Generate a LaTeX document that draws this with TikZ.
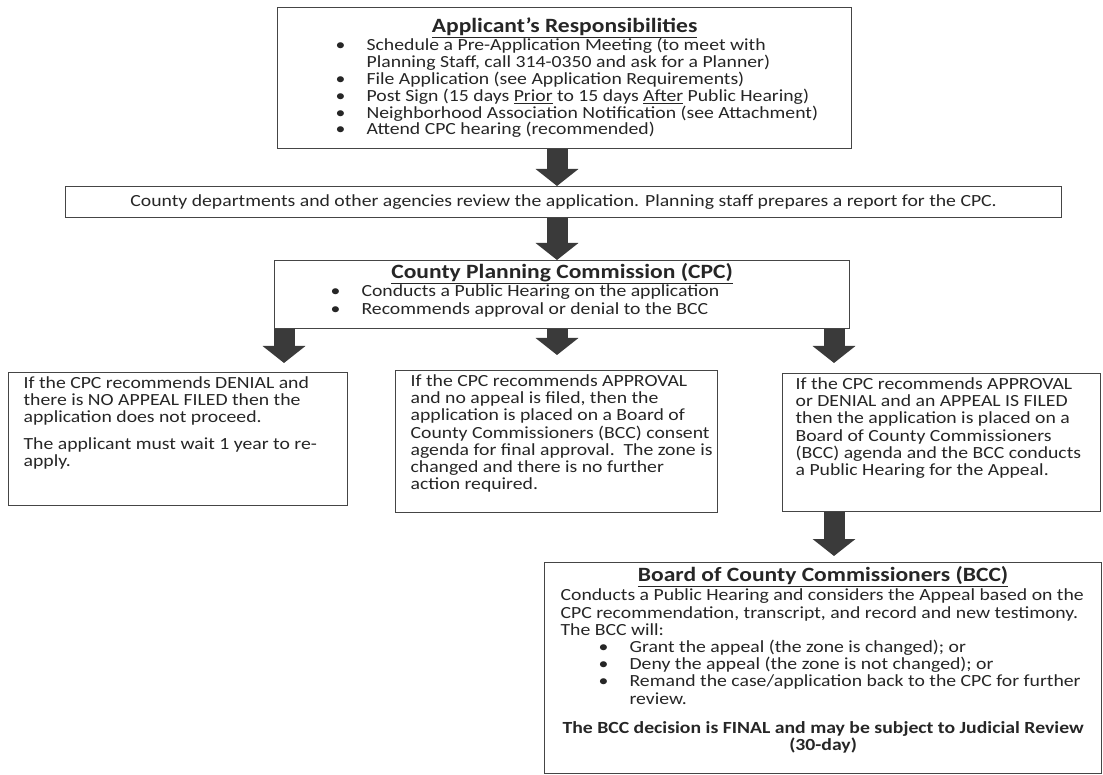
\documentclass[tikz,border=0pt]{standalone}
\usepackage{fontspec}
\setmainfont{Carlito}[FakeStretch=1.16]
\usepackage{tikz}
\usetikzlibrary{arrows.meta,positioning}

\definecolor{ink}{HTML}{262626}
\definecolor{frame}{HTML}{454545}
\definecolor{arrowgray}{HTML}{3A3A3A}

\newcommand{\bodyfont}{\fontsize{17}{17.2}\selectfont}
\newcommand{\headfont}{\fontsize{20.3}{20}\selectfont\bfseries}
\newcommand{\bitem}{\makebox[31pt][l]{\textbullet}}
\newcommand{\panelbody}[3]{\parbox[c][#2][t]{#1}{\raggedright\rightskip=-40pt plus 1fil #3}}

\begin{document}
\begin{tikzpicture}[x=1pt, y=-1pt, font=\bodyfont, text=ink,
    panel/.style={draw=frame, line width=1.2pt, anchor=north west, inner sep=0pt},
    bigarrow/.style={draw=arrowgray, line width=21pt, -{Triangle[width=42pt,length=17pt]}}]
  \useasboundingbox[fill=white] (0,0) rectangle (1103,775);

  % arrow columns
  \coordinate (colL) at (284,0);
  \coordinate (colM) at (557,0);
  \coordinate (colR) at (834,0);

  \node[panel] (resp) at (277,7) {\panelbody{574pt}{141pt}{\vspace*{10pt}
    {\centering\headfont\underline{Applicant's Responsibilities}\par}
    \leftskip=58pt\baselineskip=16.8pt
    \bitem Schedule a Pre-Application Meeting (to meet with\\
    \hspace*{31pt}Planning Staff, call 314-0350 and ask for a Planner)\\
    \bitem File Application (see Application Requirements)\\
    \bitem Post Sign (15 days \underline{Prior} to 15 days \underline{After} Public Hearing)\\
    \bitem Neighborhood Association Notification (see Attachment)\\
    \bitem Attend CPC hearing (recommended)}};

  \node[panel, minimum width=996pt, minimum height=31pt] (review) at (65,186)
    {County departments and other agencies review the application. Planning staff prepares a report for the CPC.};

  \node[panel] (cpc) at (274,260) {\panelbody{575pt}{68pt}{\vspace*{3pt}
    {\centering\headfont\underline{County Planning Commission (CPC)}\par}
    \leftskip=56pt
    \bitem Conducts a Public Hearing on the application\\
    \bitem Recommends approval or denial to the BCC}};

  \node[panel] (deny) at (8,372) {\panelbody{339pt}{133pt}{\vspace*{4pt}\leftskip=15pt
    If the CPC recommends DENIAL and\\
    there is NO APPEAL FILED then the\\
    application does not proceed.\\[9.5pt]
    The applicant must wait 1 year to re-\\
    apply.}};

  \node[panel] (approve) at (395,370) {\panelbody{322pt}{142pt}{\vspace*{4pt}\leftskip=15pt
    If the CPC recommends APPROVAL\\
    and no appeal is filed, then the\\
    application is placed on a Board of\\
    County Commissioners (BCC) consent\\
    agenda for final approval.\ \ The zone is\\
    changed and there is no further\\
    action required.}};

  \node[panel] (appeal) at (782,373) {\panelbody{318pt}{138pt}{\vspace*{4pt}\leftskip=13pt
    If the CPC recommends APPROVAL\\
    or DENIAL and an APPEAL IS FILED\\
    then the application is placed on a\\
    Board of County Commissioners\\
    (BCC) agenda and the BCC conducts\\
    a Public Hearing for the Appeal.}};

  \node[panel] (bcc) at (544,562) {\panelbody{557pt}{211pt}{\vspace*{4pt}
    {\centering\headfont\underline{Board of County Commissioners (BCC)}\par}
    \vspace{2pt}\leftskip=16pt
    Conducts a Public Hearing and considers the Appeal based on the\\
    CPC recommendation, transcript, and record and new testimony.\\
    The BCC will:\\
    \hspace*{38pt}\bitem Grant the appeal (the zone is changed); or\\
    \hspace*{38pt}\bitem Deny the appeal (the zone is not changed); or\\
    \hspace*{38pt}\bitem Remand the case/application back to the CPC for further\\
    \hspace*{69pt}review.\par
    \vspace{12pt}
    {\centering\bfseries The BCC decision is FINAL and may be subject to Judicial Review\\
    (30-day)\par}}};

  % connectors
  \draw[bigarrow] (resp.south -| colM) -- (review.north -| colM);
  \draw[bigarrow] (review.south -| colM) -- (cpc.north -| colM);
  \draw[bigarrow, shorten >=9pt] (cpc.south -| colL) -- (deny.north -| colL);
  \draw[bigarrow, shorten >=15pt] (cpc.south -| colM) -- (approve.north -| colM);
  \draw[bigarrow, shorten >=10pt] (cpc.south -| colR) -- (appeal.north -| colR);
  \draw[bigarrow, shorten >=6pt] (appeal.south -| colR) -- (bcc.north -| colR);
\end{tikzpicture}
\end{document}
